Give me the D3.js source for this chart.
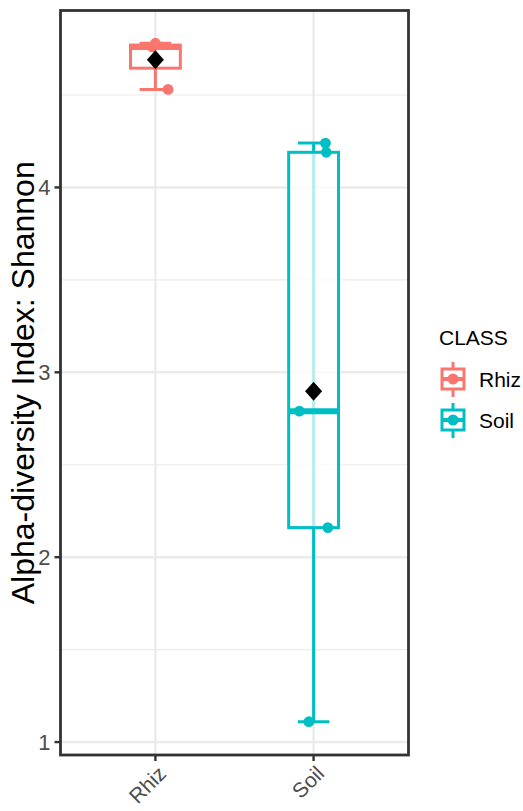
<!DOCTYPE html>
<html>
<head>
<meta charset="utf-8">
<script src="https://cdn.jsdelivr.net/npm/d3@7"></script>
<style>
  html, body { margin: 0; padding: 0; background: #fff; }
  svg { display: block; font-family: "Liberation Sans", Arial, sans-serif; }
</style>
</head>
<body>
<svg id="chart" width="523" height="811"></svg>
<script>
// Shannon diversity per sample, grouped by class
const classes = ["Rhiz", "Soil"];
const colors = ["#F8766D", "#00BFC4"];
const rhizValues = [4.53, 4.76, 4.78];
const soilValues = [1.11, 2.16, 2.79, 4.19, 4.24];
// horizontal jitter of each sample (in category units)
const rhizJitter = [0.08, -0.02, 0.0];
const soilJitter = [-0.03, 0.09, -0.09, 0.08, 0.075];
const yTicks = [1, 2, 3, 4];
const yMinor = [1.5, 2.5, 3.5, 4.5];

const groups = [
  { name: classes[0], color: colors[0], values: rhizValues, jitter: rhizJitter },
  { name: classes[1], color: colors[1], values: soilValues, jitter: soilJitter }
];

const svg = d3.select("#chart");
const panel = { left: 60.5, right: 408.5, top: 10.5, bottom: 755 };

const x = d3.scaleLinear().domain([0.4, 2.6]).range([panel.left, panel.right]);
const y = d3.scaleLinear().domain([0.93, 4.957]).range([panel.bottom, panel.top]);

// grid
const grid = svg.append("g");
grid.selectAll(".minor").data(yMinor).join("line")
  .attr("x1", panel.left).attr("x2", panel.right)
  .attr("y1", d => y(d)).attr("y2", d => y(d))
  .attr("stroke", "#ebebeb").attr("stroke-width", 1.2);
grid.selectAll(".major").data(yTicks).join("line")
  .attr("x1", panel.left).attr("x2", panel.right)
  .attr("y1", d => y(d)).attr("y2", d => y(d))
  .attr("stroke", "#ebebeb").attr("stroke-width", 2.4);
grid.selectAll(".vmajor").data(classes).join("line")
  .attr("x1", (d, i) => x(i + 1)).attr("x2", (d, i) => x(i + 1))
  .attr("y1", panel.top).attr("y2", panel.bottom)
  .attr("stroke", "#ebebeb").attr("stroke-width", 2.4);

// box statistics
groups.forEach(g => {
  const s = g.values.slice().sort(d3.ascending);
  g.q1 = d3.quantile(s, 0.25);
  g.med = d3.quantile(s, 0.5);
  g.q3 = d3.quantile(s, 0.75);
  const iqr = g.q3 - g.q1;
  g.lo = d3.min(s.filter(v => v >= g.q1 - 1.5 * iqr));
  g.hi = d3.max(s.filter(v => v <= g.q3 + 1.5 * iqr));
  g.mean = d3.mean(s);
});

const boxW = 0.315, capW = 0.2, lw = 3;
const marks = svg.append("g");
groups.forEach((g, i) => {
  const cx = x(i + 1);
  const half = (x(boxW) - x(0)) / 2;
  const capHalf = (x(capW) - x(0)) / 2;
  const gg = marks.append("g").attr("stroke", g.color).attr("fill", "none");
  // whisker line and caps
  gg.append("line").attr("x1", cx).attr("x2", cx).attr("y1", y(g.lo)).attr("y2", y(g.hi)).attr("stroke-width", lw);
  [g.lo, g.hi].forEach(v => gg.append("line")
    .attr("x1", cx - capHalf).attr("x2", cx + capHalf).attr("y1", y(v)).attr("y2", y(v)).attr("stroke-width", lw));
  // box
  gg.append("rect")
    .attr("x", cx - half).attr("width", 2 * half)
    .attr("y", y(g.q3)).attr("height", y(g.q1) - y(g.q3))
    .attr("fill", "#fff").attr("fill-opacity", 0.72).attr("stroke-width", lw);
  gg.append("line").attr("x1", cx - half).attr("x2", cx + half)
    .attr("y1", y(g.med)).attr("y2", y(g.med)).attr("stroke-width", 6);
  // samples
  marks.append("g").selectAll("circle").data(g.values).join("circle")
    .attr("cx", (d, j) => x(i + 1 + g.jitter[j]))
    .attr("cy", d => y(d))
    .attr("r", 5.4).attr("fill", g.color);
  // mean
  const my = y(g.mean);
  marks.append("path")
    .attr("d", `M${cx},${my - 9.5}L${cx + 8.5},${my}L${cx},${my + 9.5}L${cx - 8.5},${my}Z`)
    .attr("fill", "#000");
});

// panel border
svg.append("rect")
  .attr("x", panel.left).attr("y", panel.top)
  .attr("width", panel.right - panel.left).attr("height", panel.bottom - panel.top)
  .attr("fill", "none").attr("stroke", "#333333").attr("stroke-width", 2.8);

// y axis
const yAxis = svg.append("g");
yAxis.selectAll("line").data(yTicks).join("line")
  .attr("x1", panel.left - 6).attr("x2", panel.left)
  .attr("y1", d => y(d)).attr("y2", d => y(d))
  .attr("stroke", "#333333").attr("stroke-width", 2.4);
yAxis.selectAll("text").data(yTicks).join("text")
  .attr("x", panel.left - 10).attr("y", d => y(d))
  .attr("dy", "0.36em").attr("text-anchor", "end")
  .attr("font-size", 22).attr("fill", "#4d4d4d")
  .text(d => d);

// x axis
const xAxis = svg.append("g");
xAxis.selectAll("line").data(classes).join("line")
  .attr("x1", (d, i) => x(i + 1)).attr("x2", (d, i) => x(i + 1))
  .attr("y1", panel.bottom).attr("y2", panel.bottom + 6)
  .attr("stroke", "#333333").attr("stroke-width", 2.4);
xAxis.selectAll("text").data(classes).join("text")
  .attr("transform", (d, i) => `translate(${x(i + 1) + 12},${panel.bottom + 20}) rotate(-45)`)
  .attr("text-anchor", "end")
  .attr("font-size", 21).attr("fill", "#4d4d4d")
  .text(d => d);

// y title
svg.append("text")
  .attr("transform", `translate(34,${(panel.top + panel.bottom) / 2}) rotate(-90)`)
  .attr("text-anchor", "middle")
  .attr("font-size", 32).attr("fill", "#000")
  .text("Alpha-diversity Index: Shannon");

// legend
const legend = svg.append("g");
legend.append("text").attr("x", 439).attr("y", 345)
  .attr("font-size", 21).attr("fill", "#000").text("CLASS");
groups.forEach((g, i) => {
  const cy = 379 + i * 41, cx = 453;
  const k = legend.append("g").attr("stroke", g.color).attr("fill", "none");
  k.append("line").attr("x1", cx).attr("x2", cx).attr("y1", cy - 17).attr("y2", cy + 18).attr("stroke-width", 3);
  k.append("rect").attr("x", cx - 11).attr("y", cy - 10).attr("width", 22).attr("height", 20)
    .attr("fill", "#fff").attr("stroke-width", 3);
  k.append("line").attr("x1", cx - 11).attr("x2", cx + 11).attr("y1", cy).attr("y2", cy).attr("stroke-width", 4);
  legend.append("circle").attr("cx", cx).attr("cy", cy).attr("r", 5.5).attr("fill", g.color);
  legend.append("text").attr("x", 479).attr("y", cy).attr("dy", "0.36em")
    .attr("font-size", 21).attr("fill", "#000").text(g.name);
});
</script>
</body>
</html>
